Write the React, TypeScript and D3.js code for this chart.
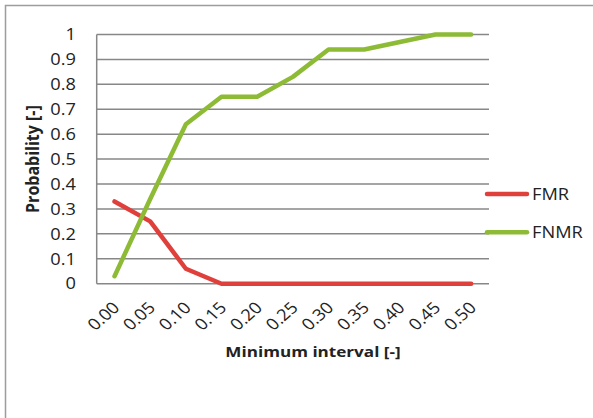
import React from "react";
import * as d3 from "d3";

const categories = ["0.00", "0.05", "0.10", "0.15", "0.20", "0.25", "0.30", "0.35", "0.40", "0.45", "0.50"];
const fmr = [0.33, 0.25, 0.06, 0, 0, 0, 0, 0, 0, 0, 0];
const fnmr = [0.03, 0.34, 0.64, 0.75, 0.75, 0.83, 0.94, 0.94, 0.97, 1.0, 1.0];
const yTicks = [0, 0.1, 0.2, 0.3, 0.4, 0.5, 0.6, 0.7, 0.8, 0.9, 1];
const seriesNames = ["FMR", "FNMR"];
const seriesColors = ["#E0403C", "#8DBB35"];

const W = 593, H = 418;
const plot = { left: 96.7, right: 489, top: 34.5, bottom: 283.7 };
const FONT = "'Open Sans', 'Noto Sans', sans-serif";
const SX = 1.14;

export default function App() {
  const x = d3.scaleBand<string>().domain(categories).range([plot.left, plot.right]);
  const y = d3.scaleLinear().domain([0, 1]).range([plot.bottom, plot.top]);
  const cx = (c: string) => (x(c) as number) + x.bandwidth() / 2;
  const line = d3.line<number>().x((_, i) => cx(categories[i])).y((d) => y(d));
  const series = [fmr, fnmr];

  return (
    <svg width={W} height={H} style={{ position: "absolute", left: 0, top: 0 }}>
      <rect x={0} y={0} width={W} height={H} fill="#fff" />
      <rect x={5.5} y={5.5} width={W + 10} height={H + 10} fill="none" stroke="#9d9d9d" strokeWidth={1.5} />
      {yTicks.map((t) => (
        <g key={t}>
          <line x1={plot.left} x2={plot.right} y1={y(t)} y2={y(t)} stroke="#878787" strokeWidth={1.5} />
          <text transform={`translate(76,${y(t)}) scale(${SX},1)`} dy="0.36em" textAnchor="end" fontFamily={FONT} fontSize={16} fill="#222">
            {d3.format("")(t)}
          </text>
        </g>
      ))}
      <line x1={plot.left} x2={plot.left} y1={plot.top} y2={plot.bottom} stroke="#878787" strokeWidth={1.5} />
      {categories.map((c) => (
        <text
          key={c}
          transform={`translate(${cx(c) + 1.5},${plot.bottom + 21}) scale(${SX},1) rotate(-45)`}
          textAnchor="end"
          dy="0.36em"
          fontFamily={FONT}
          fontSize={16}
          fill="#222"
        >
          {c}
        </text>
      ))}
      {series.map((s, i) => (
        <path key={i} d={line(s) as string} fill="none" stroke={seriesColors[i]} strokeWidth={4.5} strokeLinejoin="round" strokeLinecap="round" />
      ))}
      <text transform={`translate(313,357) scale(${SX},1)`} textAnchor="middle" fontFamily={FONT} fontSize={15} fontWeight="bold" fill="#222">
        Minimum interval [-]
      </text>
      <text transform={`translate(39,${(plot.top + plot.bottom) / 2}) scale(${SX},1) rotate(-90)`} textAnchor="middle" fontFamily={FONT} fontSize={16} fontWeight="bold" fill="#222">
        Probability [-]
      </text>
      {seriesNames.map((n, i) => (
        <g key={n}>
          <line x1={487} x2={527} y1={194 + i * 38.3} y2={194 + i * 38.3} stroke={seriesColors[i]} strokeWidth={4.5} strokeLinecap="round" />
          <text transform={`translate(532,${194 + i * 38.3}) scale(${SX},1)`} dy="0.36em" fontFamily={FONT} fontSize={16} fill="#222">
            {n}
          </text>
        </g>
      ))}
    </svg>
  );
}
